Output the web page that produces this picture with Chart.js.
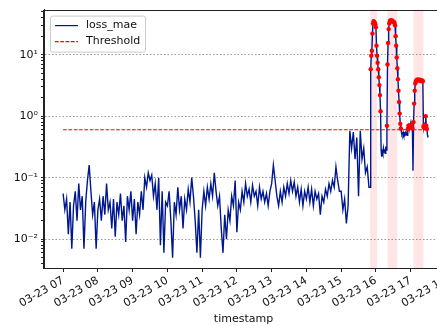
<!DOCTYPE html>
<html lang="en">
<head>
<meta charset="UTF-8">
<title>loss_mae</title>
<script src="https://cdn.jsdelivr.net/npm/chart.js"></script>
<style>
  html, body { margin: 0; padding: 0; background: #fff; overflow: hidden; }
  #wrap { position: relative; width: 454px; height: 326px; }
</style>
</head>
<body>
<div id="wrap"><canvas id="lossChart"></canvas></div>
<script>
// loss_mae sampled every 3 minutes, one array per hour (07:00 ... 15:48)
const loss07 = [0.055, 0.03, 0.045, 0.012, 0.04, 0.007, 0.035, 0.06, 0.02, 0.08, 0.03, 0.05, 0.007, 0.04, 0.09, 0.16, 0.06, 0.025, 0.04, 0.007];
const loss08 = [0.03, 0.045, 0.02, 0.05, 0.025, 0.08, 0.03, 0.04, 0.015, 0.045, 0.011, 0.04, 0.025, 0.055, 0.02, 0.035, 0.009, 0.05, 0.03, 0.06];
const loss09 = [0.02, 0.045, 0.012, 0.04, 0.025, 0.06, 0.03, 0.1, 0.07, 0.12, 0.09, 0.11, 0.05, 0.08, 0.03, 0.1, 0.008, 0.06, 0.006, 0.04];
const loss10 = [0.035, 0.06, 0.02, 0.005, 0.04, 0.025, 0.07, 0.03, 0.05, 0.015, 0.045, 0.03, 0.065, 0.04, 0.1, 0.05, 0.02, 0.006, 0.03, 0.005];
const loss11 = [0.03, 0.06, 0.035, 0.07, 0.045, 0.08, 0.05, 0.12, 0.06, 0.035, 0.05, 0.015, 0.006, 0.025, 0.01, 0.03, 0.02, 0.05, 0.035, 0.09];
const loss12 = [0.013, 0.04, 0.03, 0.06, 0.04, 0.08, 0.05, 0.065, 0.04, 0.075, 0.05, 0.06, 0.035, 0.07, 0.045, 0.06, 0.04, 0.055, 0.035, 0.06];
const loss13 = [0.08, 0.16, 0.09, 0.05, 0.035, 0.06, 0.04, 0.07, 0.05, 0.08, 0.055, 0.09, 0.06, 0.085, 0.05, 0.07, 0.04, 0.065, 0.035, 0.06];
const loss14 = [0.045, 0.07, 0.04, 0.065, 0.035, 0.06, 0.045, 0.055, 0.025, 0.05, 0.04, 0.065, 0.05, 0.08, 0.06, 0.09, 0.07, 0.15, 0.09, 0.06];
const loss15 = [0.06, 0.03, 0.045, 0.018, 0.035, 0.58, 0.3, 0.55, 0.2, 0.45, 0.05, 0.58, 0.2, 0.3, 0.12, 0.15, 0.07];

// loss_mae sampled every minute from 15:50 on
const lossTail = [
  0.07, 5.8, 9.6, 11.6, 22, 32, 35, 34, 33, 31,
  28, 14, 9.6, 7.4, 5.8, 4.3, 3.2, 2.2, 1.2, 0.28,
  0.22, 0.26, 0.24, 0.3, 0.26, 0.29, 0.25, 0.32, 0.28, 0.7,
  6.9, 15.5, 26, 32, 35, 36, 36, 35, 36, 35,
  34, 34, 33, 30, 20, 14, 9, 6, 4, 2.6,
  1.7, 1.1, 0.75, 0.63, 0.55, 0.5, 0.52, 0.55, 0.5, 0.53,
  0.51, 0.54, 0.5, 0.52, 0.49, 0.62, 0.7, 0.64, 0.68, 0.66,
  0.72, 0.65, 0.7, 0.63, 0.13, 0.8, 1.6, 2.6, 3.4, 3.7,
  3.8, 3.9, 3.9, 3.8, 3.9, 3.8, 3.9, 3.8, 3.8, 3.7,
  3.8, 3.7, 0.68, 0.65, 0.72, 0.66, 1.0, 0.7, 0.62, 0.5,
  0.45
];

const threshold = 0.6;
const hourTicks = [7, 8, 9, 10, 11, 12, 13, 14, 15, 16, 17, 18];
const anomalyWindows = [['15:50', '16:02'], ['16:20', '16:37'], ['17:05', '17:22']];

function hm(s) {
    const p = s.split(':');
    return Number(p[0]) + Number(p[1]) / 60;
}

// build the {x, y} points, x in hours of the day
const hourly = [loss07, loss08, loss09, loss10, loss11, loss12, loss13, loss14, loss15];
const lossPoints = [];
hourly.forEach((arr, h) => {
    arr.forEach((v, i) => lossPoints.push({ x: 7 + h + i * 3 / 60, y: v }));
});
lossTail.forEach((v, i) => lossPoints.push({ x: hm('15:50') + i / 60, y: v }));
const anomalyPoints = lossPoints.filter(p => p.y > threshold);
const firstX = lossPoints[0].x;
const lastX = lossPoints[lossPoints.length - 1].x;

const supMap = { '-': '\u207B', '0': '\u2070', '1': '\u00B9', '2': '\u00B2', '3': '\u00B3' };
function powLabel(v) {
    const e = Math.round(Math.log10(v));
    if (Math.abs(Math.log10(v) - e) > 1e-6) return '';
    return '10' + String(e).split('').map(c => supMap[c]).join('');
}

const FONT = 'DejaVu Sans';

// pink spans behind the data
const spanPlugin = {
    id: 'spans',
    beforeDatasetsDraw(chart) {
        const { ctx, chartArea, scales } = chart;
        ctx.save();
        ctx.fillStyle = 'rgba(255, 0, 0, 0.1)';
        anomalyWindows.forEach(w => {
            const x1 = scales.x.getPixelForValue(hm(w[0]));
            const x2 = scales.x.getPixelForValue(hm(w[1]));
            ctx.fillRect(x1, chartArea.top, x2 - x1, chartArea.bottom - chartArea.top);
        });
        ctx.restore();
    }
};

// frame + legend box in the upper left corner
const framePlugin = {
    id: 'frame',
    afterDraw(chart) {
        const { ctx, chartArea } = chart;
        ctx.save();
        ctx.strokeStyle = '#222';
        ctx.lineWidth = 1;
        ctx.strokeRect(Math.round(chartArea.left) - 0.5, Math.round(chartArea.top) + 0.5,
            Math.round(chartArea.right - chartArea.left) + 1, Math.round(chartArea.bottom - chartArea.top));

        const bx = chartArea.left + 6, by = chartArea.top + 6, bw = 95, bh = 36;
        ctx.fillStyle = 'rgba(255,255,255,0.8)';
        ctx.strokeStyle = '#cccccc';
        ctx.beginPath();
        ctx.roundRect(bx + 0.5, by + 0.5, bw, bh, 2);
        ctx.fill();
        ctx.stroke();

        ctx.lineWidth = 1.2;
        ctx.strokeStyle = '#00188f';
        ctx.beginPath();
        ctx.moveTo(bx + 5, by + 10);
        ctx.lineTo(bx + 28, by + 10);
        ctx.stroke();

        ctx.strokeStyle = 'red';
        ctx.setLineDash([3.7, 1.6]);
        ctx.beginPath();
        ctx.moveTo(bx + 5, by + 26);
        ctx.lineTo(bx + 28, by + 26);
        ctx.stroke();
        ctx.setLineDash([]);

        ctx.fillStyle = '#111';
        ctx.font = '11px "' + FONT + '"';
        ctx.textBaseline = 'middle';
        ctx.fillText('loss_mae', bx + 36, by + 10);
        ctx.fillText('Threshold', bx + 36, by + 26);
        ctx.restore();
    }
};

const ctx = document.getElementById('lossChart').getContext('2d');
new Chart(ctx, {
    type: 'line',
    data: {
        datasets: [
            {
                label: 'anomaly',
                data: anomalyPoints,
                showLine: false,
                pointRadius: 2.2,
                pointBackgroundColor: 'red',
                pointBorderWidth: 0,
                order: 0
            },
            {
                label: 'Threshold',
                data: [{ x: firstX, y: threshold }, { x: lastX, y: threshold }],
                borderColor: 'red',
                borderWidth: 1.1,
                borderDash: [3.7, 1.6],
                pointRadius: 0,
                order: 1
            },
            {
                label: 'loss_mae',
                data: lossPoints,
                borderColor: '#00188f',
                borderWidth: 1.4,
                pointRadius: 0,
                tension: 0,
                order: 2
            }
        ]
    },
    options: {
        responsive: true,
        maintainAspectRatio: false,
        animation: false,
        layout: { padding: { top: 6, left: 0, right: 0, bottom: 0 } },
        plugins: {
            legend: { display: false },
            tooltip: { enabled: false }
        },
        scales: {
            x: {
                type: 'linear',
                min: 6.45,
                max: 17.93,
                afterBuildTicks: scale => { scale.ticks = hourTicks.map(v => ({ value: v })); },
                afterFit: scale => { scale.height = 58; },
                ticks: {
                    autoSkip: false,
                    minRotation: 30,
                    maxRotation: 30,
                    padding: 2,
                    color: '#111',
                    font: { family: FONT, size: 11 },
                    callback: v => '03-23 ' + String(v).padStart(2, '0')
                },
                grid: {
                    drawOnChartArea: false,
                    drawTicks: true,
                    tickLength: 4,
                    tickColor: '#222'
                },
                border: { display: true, color: '#222' },
                title: {
                    display: true,
                    text: 'timestamp',
                    color: '#111',
                    font: { family: FONT, size: 11 },
                    padding: { top: 0, bottom: 0 }
                }
            },
            y: {
                type: 'logarithmic',
                min: 0.0034,
                max: 54,
                afterBuildTicks: scale => {
                    const t = [];
                    for (let e = -3; e <= 1; e++) {
                        for (let k = 1; k <= 9; k++) {
                            const v = k * Math.pow(10, e);
                            if (v >= scale.min && v <= scale.max) t.push({ value: v });
                        }
                    }
                    scale.ticks = t;
                },
                afterFit: scale => { scale.width = 44; },
                ticks: {
                    autoSkip: false,
                    padding: 3,
                    color: '#111',
                    font: { family: FONT, size: 11 },
                    callback: v => powLabel(v)
                },
                grid: {
                    drawTicks: true,
                    tickLength: 3,
                    tickColor: '#222',
                    tickBorderDash: [],
                    color: c => powLabel(c.tick.value) ? '#999999' : 'rgba(0,0,0,0)'
                },
                border: { display: true, color: '#222', dash: [1.5, 2] }
            }
        }
    },
    plugins: [spanPlugin, framePlugin]
});
</script>
</body>
</html>
